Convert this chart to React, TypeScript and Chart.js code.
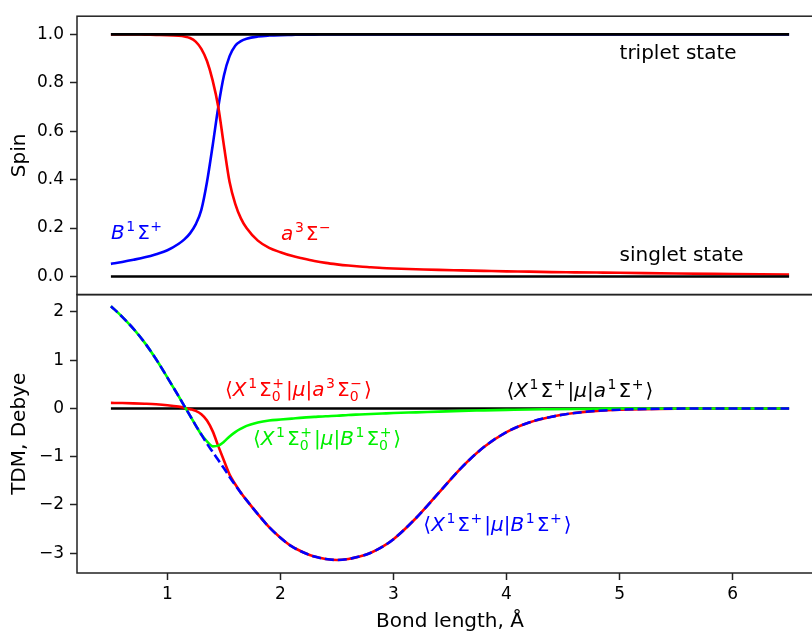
import React, { useEffect, useRef } from 'react';
import { Chart, registerables } from 'chart.js';

Chart.register(...registerables);

// Bond length grid (Å)
const bondLength = [
  0.5, 0.6, 0.7, 0.8, 0.9, 1.0, 1.1, 1.15, 1.2, 1.25, 1.3, 1.35, 1.4, 1.45, 1.5,
  1.55, 1.6, 1.65, 1.7, 1.8, 1.9, 2.0, 2.1, 2.2, 2.3, 2.4, 2.5, 2.6, 2.7, 2.8,
  2.9, 3.0, 3.2, 3.4, 3.6, 3.8, 4.0, 4.2, 4.4, 4.6, 4.8, 5.0, 5.5, 6.0, 6.5,
];

// Spin of the a3Σ− state (red)
const spinA3 = [
  1.0, 1.0, 1.0, 0.999, 0.998, 0.997, 0.994, 0.991, 0.985, 0.97, 0.94, 0.89, 0.81, 0.70, 0.54,
  0.39, 0.30, 0.24, 0.20, 0.148, 0.118, 0.100, 0.085, 0.074, 0.064, 0.056, 0.050, 0.045, 0.041, 0.038,
  0.035, 0.033, 0.030, 0.027, 0.025, 0.023, 0.021, 0.020, 0.018, 0.017, 0.016, 0.015, 0.012, 0.010, 0.008,
];

// Spin of the B1Σ+ state (blue)
const spinB1 = [
  0.052, 0.060, 0.069, 0.079, 0.092, 0.108, 0.135, 0.153, 0.178, 0.215, 0.275, 0.39, 0.54, 0.70, 0.83,
  0.91, 0.953, 0.972, 0.982, 0.991, 0.995, 0.997, 0.998, 0.999, 0.999, 1.0, 1.0, 1.0, 1.0, 1.0,
  1.0, 1.0, 1.0, 1.0, 1.0, 1.0, 1.0, 1.0, 1.0, 1.0, 1.0, 1.0, 1.0, 1.0, 1.0,
];

// TDM <X1Σ+|μ|B1Σ+> (blue dashed)
const tdmXB = [
  2.12, 1.90, 1.65, 1.36, 1.02, 0.64, 0.25, 0.05, -0.15, -0.35, -0.54, -0.73, -0.90, -1.07, -1.24,
  -1.42, -1.59, -1.75, -1.90, -2.19, -2.46, -2.68, -2.86, -2.98, -3.07, -3.12, -3.14, -3.12, -3.07, -2.99,
  -2.87, -2.71, -2.27, -1.75, -1.23, -0.80, -0.49, -0.29, -0.17, -0.095, -0.05, -0.025, -0.003, 0.0, 0.0,
];

// TDM <X1Σ0+|μ|a3Σ0−> (red)
const tdmXa3 = [
  0.115, 0.112, 0.106, 0.098, 0.087, 0.068, 0.038, 0.015, -0.015, -0.05, -0.12, -0.25, -0.47, -0.78, -1.08,
  -1.37, -1.57, -1.745, -1.90, -2.19, -2.46, -2.68, -2.86, -2.98, -3.07, -3.12, -3.14, -3.12, -3.07, -2.99,
  -2.87, -2.71, -2.27, -1.75, -1.23, -0.80, -0.49, -0.29, -0.17, -0.095, -0.05, -0.025, -0.003, 0.0, 0.0,
];

// TDM <X1Σ0+|μ|B1Σ0+> (green)
const tdmXB0 = [
  2.12, 1.90, 1.65, 1.36, 1.02, 0.64, 0.25, 0.05, -0.15, -0.35, -0.54, -0.68, -0.785, -0.77, -0.69,
  -0.58, -0.49, -0.42, -0.36, -0.29, -0.25, -0.23, -0.21, -0.19, -0.175, -0.16, -0.15, -0.135, -0.125, -0.115,
  -0.105, -0.095, -0.08, -0.065, -0.05, -0.04, -0.03, -0.02, -0.015, -0.01, -0.005, 0.0, 0.0, 0.0, 0.0,
];

// Reference horizontal lines
const refEnds = [0.5, 6.5];
const tripletLevel = [1.0, 1.0];
const singletLevel = [0.0, 0.0];
const tdmXa1 = [0.0, 0.0];

type Tok = { t: string; i?: boolean; sup?: string; sub?: string };
type Note = { x: number; y: number; axis: 'yTop' | 'yBot'; color: string; toks: Tok[] };

const notes: Note[] = [
  { x: 5.0, y: 0.9, axis: 'yTop', color: '#000000', toks: [{ t: 'triplet state' }] },
  { x: 5.0, y: 0.063, axis: 'yTop', color: '#000000', toks: [{ t: 'singlet state' }] },
  { x: 0.5, y: 0.153, axis: 'yTop', color: '#0000ff', toks: [{ t: 'B', i: true, sup: '1' }, { t: 'Σ', sup: '+' }] },
  { x: 2.005, y: 0.15, axis: 'yTop', color: '#ff0000', toks: [{ t: 'a', i: true, sup: '3' }, { t: 'Σ', sup: '−' }] },
  {
    x: 1.51, y: 0.255, axis: 'yBot', color: '#ff0000',
    toks: [{ t: '⟨' }, { t: 'X', i: true, sup: '1' }, { t: 'Σ', sub: '0', sup: '+' }, { t: '|' }, { t: 'μ', i: true }, { t: '|' },
      { t: 'a', i: true, sup: '3' }, { t: 'Σ', sub: '0', sup: '−' }, { t: '⟩' }],
  },
  {
    x: 4.0, y: 0.23, axis: 'yBot', color: '#000000',
    toks: [{ t: '⟨' }, { t: 'X', i: true, sup: '1' }, { t: 'Σ', sup: '+' }, { t: '|' }, { t: 'μ', i: true }, { t: '|' },
      { t: 'a', i: true, sup: '1' }, { t: 'Σ', sup: '+' }, { t: '⟩' }],
  },
  {
    x: 1.757, y: -0.76, axis: 'yBot', color: '#00ee00',
    toks: [{ t: '⟨' }, { t: 'X', i: true, sup: '1' }, { t: 'Σ', sub: '0', sup: '+' }, { t: '|' }, { t: 'μ', i: true }, { t: '|' },
      { t: 'B', i: true, sup: '1' }, { t: 'Σ', sub: '0', sup: '+' }, { t: '⟩' }],
  },
  {
    x: 3.264, y: -2.54, axis: 'yBot', color: '#0000ff',
    toks: [{ t: '⟨' }, { t: 'X', i: true, sup: '1' }, { t: 'Σ', sup: '+' }, { t: '|' }, { t: 'μ', i: true }, { t: '|' },
      { t: 'B', i: true, sup: '1' }, { t: 'Σ', sup: '+' }, { t: '⟩' }],
  },
];

const FONT = '"DejaVu Sans"';

function drawMath(ctx: CanvasRenderingContext2D, toks: Tok[], x: number, y: number, color: string, size: number) {
  ctx.save();
  ctx.fillStyle = color;
  ctx.textBaseline = 'alphabetic';
  ctx.textAlign = 'left';
  let cx = x;
  for (const tk of toks) {
    ctx.font = `${tk.i ? 'italic ' : ''}${size}px ${FONT}`;
    ctx.fillText(tk.t, cx, y);
    cx += ctx.measureText(tk.t).width;
    if (tk.sup || tk.sub) {
      const ss = size * 0.7;
      if (tk.i) cx += size * 0.05;
      ctx.font = `${ss}px ${FONT}`;
      let w = 0;
      if (tk.sup) {
        ctx.fillText(tk.sup, cx + size * 0.03, y - size * 0.42);
        w = Math.max(w, ctx.measureText(tk.sup).width + size * 0.03);
      }
      if (tk.sub) {
        ctx.fillText(tk.sub, cx, y + size * 0.22);
        w = Math.max(w, ctx.measureText(tk.sub).width);
      }
      cx += w + size * 0.1;
    }
  }
  ctx.restore();
}

const pts = (xs: number[], ys: number[]) => xs.map((x, i) => ({ x, y: ys[i] }));

const annotPlugin = {
  id: 'annot',
  afterDatasetsDraw(chart: any) {
    const ctx: CanvasRenderingContext2D = chart.ctx;
    const xs = chart.scales.x;
    for (const n of notes) {
      const ys = chart.scales[n.axis];
      drawMath(ctx, n.toks, xs.getPixelForValue(n.x), ys.getPixelForValue(n.y), n.color, 20);
    }
    // frame (spines) around each panel
    const { left, right } = chart.chartArea;
    ctx.save();
    ctx.strokeStyle = '#222';
    ctx.lineWidth = 1.5;
    for (const id of ['yTop', 'yBot']) {
      const s = chart.scales[id];
      ctx.strokeRect(left, s.top, right - left, s.bottom - s.top);
    }
    ctx.restore();
  },
};

export default function App() {
  const ref = useRef<HTMLCanvasElement>(null);
  useEffect(() => {
    const tickFont = { family: FONT, size: 17 };
    const titleFont = { family: FONT, size: 20, lineHeight: 1.2 };
    const tickGrid = {
      display: true,
      drawOnChartArea: false,
      drawTicks: true,
      tickLength: 7,
      tickColor: '#222',
      tickWidth: 1.5,
    };
    const line = (data: any, color: string, axis: string, order: number, dash: number[] = []) => ({
      data,
      borderColor: color,
      backgroundColor: color,
      borderWidth: 2.6,
      borderDash: dash,
      pointRadius: 0,
      fill: false,
      cubicInterpolationMode: 'monotone' as const,
      yAxisID: axis,
      order,
    });
    const chart = new Chart(ref.current!, {
      type: 'line',
      data: {
        datasets: [
          line(pts(refEnds, tripletLevel), '#000000', 'yTop', 0),
          line(pts(refEnds, singletLevel), '#000000', 'yTop', 0),
          line(pts(bondLength, spinA3), '#ff0000', 'yTop', 1),
          line(pts(bondLength, spinB1), '#0000ff', 'yTop', 2),
          line(pts(bondLength, tdmXB), '#0000ff', 'yBot', 0, [9, 4]),
          line(pts(bondLength, tdmXB0), '#00ff00', 'yBot', 1),
          line(pts(bondLength, tdmXa3), '#ff0000', 'yBot', 2),
          line(pts(refEnds, tdmXa1), '#000000', 'yBot', 3),
        ],
      },
      options: {
        animation: false,
        responsive: false,
        devicePixelRatio: 1,
        layout: { padding: { top: 16, right: 7, bottom: 0, left: 0 } },
        plugins: { legend: { display: false }, tooltip: { enabled: false } },
        scales: {
          x: {
            type: 'linear',
            position: 'bottom',
            min: 0.2,
            max: 6.8,
            border: { display: false },
            grid: tickGrid,
            ticks: { stepSize: 1, includeBounds: false, autoSkip: false, maxRotation: 0, font: tickFont, color: '#000', padding: 4 },
            title: { display: true, text: 'Bond length, Å', font: { family: FONT, size: 20, lineHeight: 0.95 }, color: '#000', padding: { top: 0, bottom: 0 } },
            afterFit: (s: any) => { s.height = 58; },
          },
          yBot: {
            type: 'linear',
            position: 'left',
            stack: 'panels',
            stackWeight: 1,
            min: -3.41,
            max: 2.36,
            border: { display: false },
            grid: tickGrid,
            ticks: {
              stepSize: 1, includeBounds: false, autoSkip: false, font: tickFont, color: '#000', padding: 6,
              callback: (v: any) => (Number(v) < 0 ? '−' + Math.abs(Number(v)) : String(Number(v))),
            },
            title: { display: true, text: 'TDM, Debye', font: titleFont, color: '#000', padding: { top: 8, bottom: 0 } },
            afterFit: (s: any) => { s.width = 77; },
          },
          yTop: {
            type: 'linear',
            position: 'left',
            stack: 'panels',
            stackWeight: 1,
            min: -0.075,
            max: 1.075,
            border: { display: false },
            grid: tickGrid,
            ticks: {
              stepSize: 0.2, includeBounds: false, autoSkip: false, font: tickFont, color: '#000', padding: 6,
              callback: (v: any) => Number(v).toFixed(1),
            },
            title: { display: true, text: 'Spin', font: titleFont, color: '#000', padding: { top: 8, bottom: 0 } },
            afterFit: (s: any) => { s.width = 77; },
          },
        },
      } as any,
      plugins: [annotPlugin],
    });
    return () => chart.destroy();
  }, []);
  return (
    <div style={{ position: 'fixed', left: 0, top: 0, width: 812, height: 631, overflow: 'hidden', background: '#fff' }}>
      <canvas ref={ref} width={830} height={631} style={{ display: 'block', width: 830, height: 631 }} />
    </div>
  );
}
